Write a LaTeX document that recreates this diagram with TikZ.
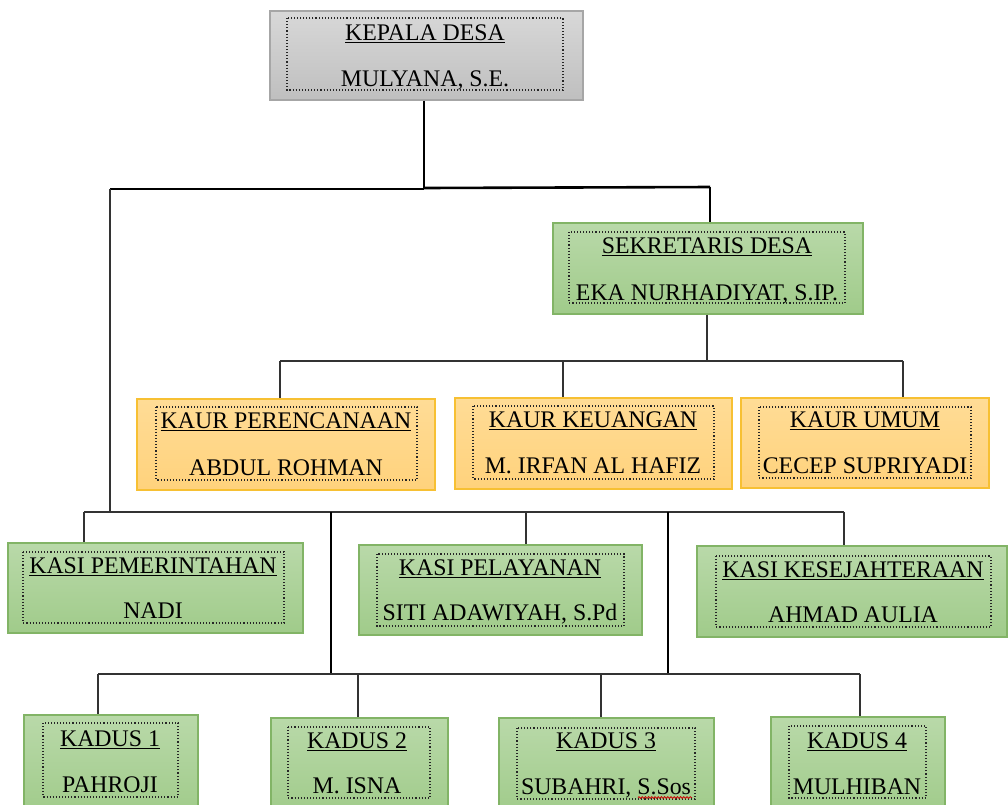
\documentclass[tikz,border=0pt]{standalone}
\usepackage{fontspec}
\setmainfont{Liberation Serif}
\usetikzlibrary{decorations.pathmorphing}
\definecolor{gtop}{HTML}{B9D9A9}
\definecolor{gbot}{HTML}{A0CB8A}
\definecolor{gline}{HTML}{82B466}
\definecolor{otop}{HTML}{FFDC96}
\definecolor{obot}{HTML}{FFD27C}
\definecolor{oline}{HTML}{F7C033}
\definecolor{ktop}{HTML}{D8D8D8}
\definecolor{kbot}{HTML}{BFBFBF}
\definecolor{kline}{HTML}{A6A6A6}
\newcommand\myul[1]{\setbox0\hbox{#1}\rlap{\rule[-3pt]{\wd0}{1.1pt}}\box0}
\tikzset{
  gbox/.style={draw=gline, line width=1.2, top color=gtop, bottom color=gbot, inner sep=0},
  obox/.style={draw=oline, line width=1.2, top color=otop, bottom color=obot, inner sep=0},
  kbox/.style={draw=kline, line width=1.2, top color=ktop, bottom color=kbot, inner sep=0},
  dotframe/.style={draw=black!85, dotted, line width=1.1},
  txt/.style={anchor=base, inner sep=0, font=\fontsize{23.8}{24}\selectfont},
  conn/.style={draw=black!80, line width=1.5},
  mainconn/.style={draw=black, line width=2.6}
}
\begin{document}
\begin{tikzpicture}[x=1pt,y=-1pt]
\useasboundingbox (0,0) rectangle (1008,804);
\clip (0,0) rectangle (1008,804);

% ---------- boxes ----------
\node[kbox, minimum width=313, minimum height=89] (kd) at (426.5,55.5) {};
\draw[dotframe] (287,18) rectangle (563,90);
\node[txt] (kdt) at (425,40) {\myul{KEPALA DESA}};
\node[txt] (kdn) at (425,86) {MULYANA, S.E.};

\node[gbox, minimum width=310, minimum height=91] (sek) at (708,268.5) {};
\draw[dotframe] (569,232) rectangle (845,303);
\node[txt] (sekt) at (707,253) {\myul{SEKRETARIS DESA}};
\node[txt] (sekn) at (707,300) {EKA NURHADIYAT, S.IP.};

\node[obox, minimum width=298, minimum height=91] (kp) at (286,444.5) {};
\draw[dotframe] (156,407) rectangle (417,480);
\node[txt] (kpt) at (286,428) {\myul{KAUR PERENCANAAN}};
\node[txt] (kpn) at (286,475) {ABDUL ROHMAN};

\node[obox, minimum width=277, minimum height=91] (kk) at (593.5,443.5) {};
\draw[dotframe] (473,406) rectangle (714,479);
\node[txt] (kkt) at (593,427) {\myul{KAUR KEUANGAN}};
\node[txt] (kkn) at (593,473) {M. IRFAN AL HAFIZ};

\node[obox, minimum width=248, minimum height=90] (ku) at (865,443) {};
\draw[dotframe] (759,407) rectangle (971,478);
\node[txt] (kut) at (865,427) {\myul{KAUR UMUM}};
\node[txt] (kun) at (865,473) {CECEP SUPRIYADI};

\node[gbox, minimum width=295, minimum height=90] (ksp) at (155.5,588) {};
\draw[dotframe] (23,552) rectangle (284,623);
\node[txt] (kspt) at (153,573) {\myul{KASI PEMERINTAHAN}};
\node[txt] (kspn) at (153,618) {NADI};

\node[gbox, minimum width=283, minimum height=90] (kspl) at (500.5,590) {};
\draw[dotframe] (377,554) rectangle (624,626);
\node[txt] (ksplt) at (500,575) {\myul{KASI PELAYANAN}};
\node[txt] (kspln) at (500,620) {SITI ADAWIYAH, S.Pd};

\node[gbox, minimum width=310, minimum height=91] (kss) at (852,591.5) {};
\draw[dotframe] (716,556) rectangle (991,627);
\node[txt] (ksst) at (853,577) {\myul{KASI KESEJAHTERAAN}};
\node[txt] (kssn) at (853,622) {AHMAD AULIA};

\node[gbox, minimum width=174, minimum height=100] (kd1) at (111,765) {};
\draw[dotframe] (43,723) rectangle (178,797);
\node[txt] (kd1t) at (110,746) {\myul{KADUS 1}};
\node[txt] (kd1n) at (110,792) {PAHROJI};

\node[gbox, minimum width=177, minimum height=97] (kd2) at (359.5,766.5) {};
\draw[dotframe] (288,727) rectangle (430,798);
\node[txt] (kd2t) at (357,748) {\myul{KADUS 2}};
\node[txt] (kd2n) at (357,793) {M. ISNA};

\node[gbox, minimum width=215, minimum height=97] (kd3) at (606.5,766.5) {};
\draw[dotframe] (517,728) rectangle (695,799);
\node[txt] (kd3t) at (606,748) {\myul{KADUS 3}};
\node[txt] (kd3n) at (606,794) {SUBAHRI, S.Sos};
\draw[red!80!black, line width=0.8, decorate, decoration={snake, amplitude=0.9, segment length=3.2}] (638,797.5) -- (692,797.5);

\node[gbox, minimum width=174, minimum height=98] (kd4) at (858,766) {};
\draw[dotframe] (789,726) rectangle (926,798);
\node[txt] (kd4t) at (857,748) {\myul{KADUS 4}};
\node[txt] (kd4n) at (857,794) {MULHIBAN};

% ---------- connectors ----------
\coordinate (jt) at (424,188);
\coordinate (jl) at (110,189);
\coordinate (jr) at (710,187);
\draw[mainconn] (jt |- kd.south) -- (jt);
\draw[mainconn] (jl) -- (jt |- jl);
\draw[mainconn] (jt) -- (jr);
\draw[conn, draw=black] (jr) -- (jr |- sek.north);

% sekretaris -> kaur
\coordinate (js) at (707,361);
\coordinate (jsl) at (280,361);
\coordinate (jsm) at (563,361);
\coordinate (jsr) at (903,361);
\draw[conn] (js |- sek.south) -- (js);
\draw[conn] (jsl) -- (jsr);
\draw[conn] (jsl) -- (jsl |- kp.north);
\draw[conn] (jsm) -- (jsm |- kk.north);
\draw[conn] (jsr) -- (jsr |- ku.north);

% kepala -> kasi
\coordinate (jk) at (110,512);
\coordinate (kl) at (84,512);
\coordinate (km) at (526,512);
\coordinate (kr) at (844,512);
\draw[conn] (jl) -- (jk);
\draw[conn] (kl) -- (kr);
\draw[conn] (kl) -- (kl |- ksp.north);
\draw[conn] (km) -- (km |- kspl.north);
\draw[conn] (kr) -- (kr |- kss.north);

% kasi row -> kadus row
\coordinate (v1) at (331,512);
\coordinate (v2) at (668,512);
\coordinate (d1) at (98,674);
\coordinate (d2) at (358,674);
\coordinate (d3) at (601,674);
\coordinate (d4) at (860,674);
\draw[conn, draw=black] (v1) -- (v1 |- d1);
\draw[conn, draw=black] (v2) -- (v2 |- d1);
\draw[conn] (d1) -- (d4);
\draw[conn] (d1) -- (d1 |- kd1.north);
\draw[conn] (d2) -- (d2 |- kd2.north);
\draw[conn] (d3) -- (d3 |- kd3.north);
\draw[conn] (d4) -- (d4 |- kd4.north);
\end{tikzpicture}
\end{document}
